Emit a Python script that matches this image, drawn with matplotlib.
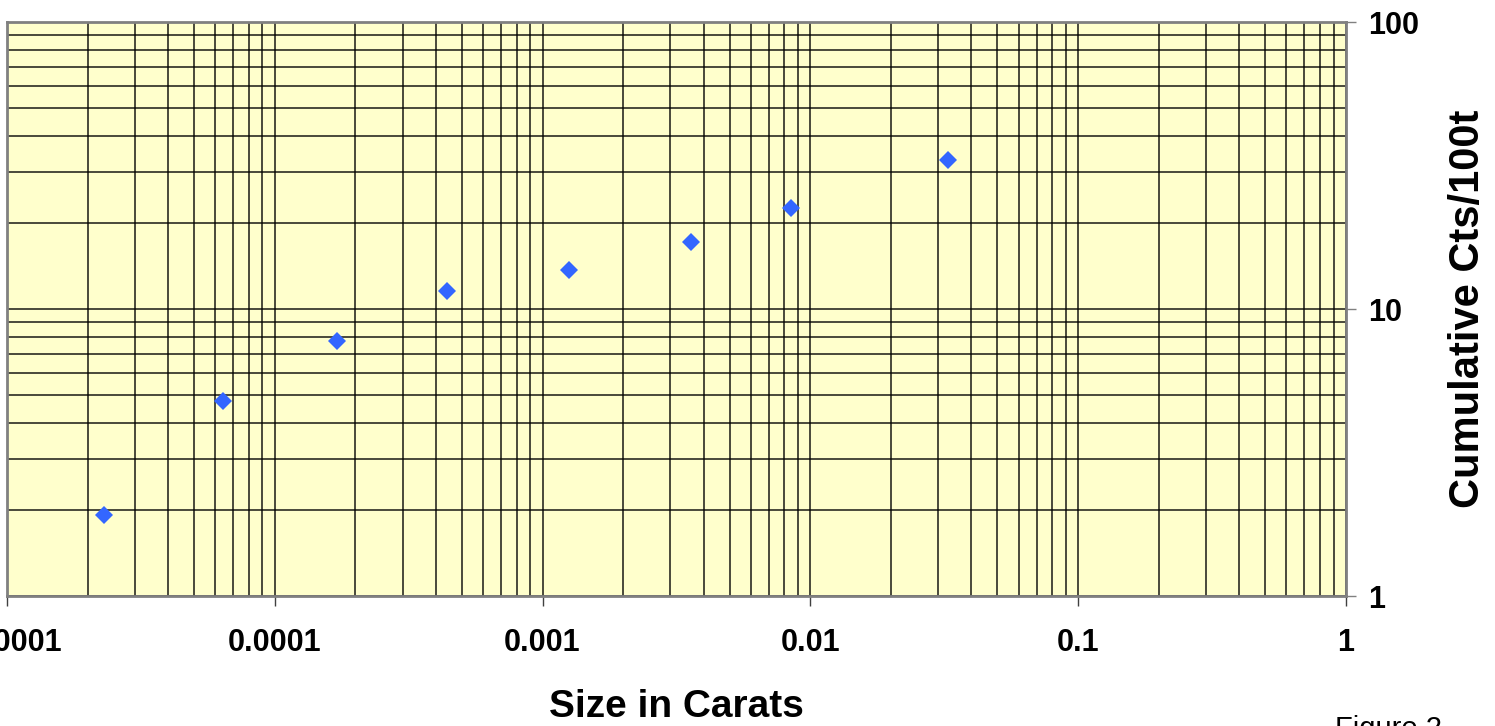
import matplotlib.pyplot as plt
from matplotlib.ticker import LogLocator, FixedFormatter, FixedLocator, NullFormatter

size_carats = [2.30e-5, 6.41e-5, 1.71e-4, 4.40e-4, 1.26e-3, 3.58e-3, 8.48e-3, 0.0327]
cum_cts = [1.92, 4.78, 7.74, 11.6, 13.7, 17.1, 22.5, 33.0]

x_ticks = [1e-5, 1e-4, 1e-3, 1e-2, 1e-1, 1]
x_labels = ['0.00001', '0.0001', '0.001', '0.01', '0.1', '1']
y_ticks = [1, 10, 100]
y_labels = ['1', '10', '100']

plt.rcParams['font.family'] = ['Liberation Sans', 'DejaVu Sans']

fig = plt.figure(figsize=(14.95, 7.26), dpi=100)
ax = fig.add_axes([0.00468, 0.179, 0.8955, 0.7906])
ax.set_facecolor('#FFFFCC')

ax.set_xscale('log')
ax.set_yscale('log')
ax.set_xlim(1e-5, 1)
ax.set_ylim(1, 100)

ax.xaxis.set_major_locator(FixedLocator(x_ticks))
ax.xaxis.set_major_formatter(FixedFormatter(x_labels))
ax.xaxis.set_minor_locator(LogLocator(base=10, subs=range(2, 10)))
ax.xaxis.set_minor_formatter(NullFormatter())
ax.yaxis.set_major_locator(FixedLocator(y_ticks))
ax.yaxis.set_major_formatter(FixedFormatter(y_labels))
ax.yaxis.set_minor_locator(LogLocator(base=10, subs=range(2, 10)))
ax.yaxis.set_minor_formatter(NullFormatter())

ax.grid(True, which='both', color='black', linewidth=1.1, alpha=0.9)
ax.set_axisbelow(True)

ax.plot(size_carats, cum_cts, linestyle='none', marker='D', markersize=9.5,
        color='#3366FF', markeredgewidth=0, zorder=3)

ax.yaxis.tick_right()
ax.yaxis.set_label_position('right')
ax.tick_params(axis='both', which='minor', length=0)
ax.tick_params(axis='x', which='major', direction='out', length=7, width=1,
               color='#404040', labelsize=22, pad=16)
ax.tick_params(axis='y', which='major', direction='out', length=7, width=1,
               color='#808080', labelsize=22, pad=9)
for lab in ax.get_xticklabels() + ax.get_yticklabels():
    lab.set_fontweight('bold')

for side in ['left', 'top', 'right', 'bottom']:
    ax.spines[side].set_color('#808080')
    ax.spines[side].set_linewidth(2)

ax.set_xlabel('Size in Carats', fontsize=28, fontweight='bold', labelpad=22)
ax.set_ylabel('Cumulative Cts/100t', fontsize=30, fontweight='bold', labelpad=21)

fig.text(1335 / 1495, -0.0145, 'Figure 2', fontsize=21, va='baseline', ha='left')

fig.savefig('out.png', dpi=100, facecolor='white')
